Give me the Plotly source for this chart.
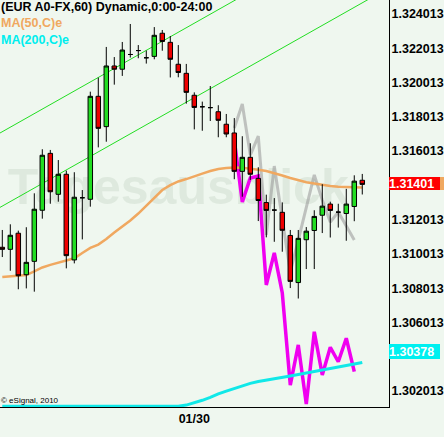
import plotly.graph_objects as go

# ---------------- data ----------------
bar_index = list(range(46))          # hourly bars, index 24 = 01/30 00:00
open_ = [1.31040, 1.31028, 1.31122, 1.30880, 1.30958, 1.31256, 1.31588, 1.31349, 1.31466, 1.30966,
         1.31329, 1.31320, 1.31921, 1.31744, 1.32098, 1.32079, 1.32165, 1.32188, 1.32146, 1.32154,
         1.32289, 1.32236, 1.32108, 1.32055, 1.31927, 1.31860, 1.31855, 1.31831, 1.31758, 1.31707,
         1.31483, 1.31565, 1.31442, 1.31301, 1.31257, 1.31244, 1.31109, 1.30834, 1.31084, 1.31138,
         1.31227, 1.31292, 1.31245, 1.31237, 1.31278, 1.31431]
high = [1.31141, 1.31174, 1.31137, 1.31157, 1.31355, 1.31612, 1.31608, 1.31549, 1.31487, 1.31478,
        1.31374, 1.31948, 1.32030, 1.32209, 1.32150, 1.32238, 1.32343, 1.32220, 1.32188, 1.32325,
        1.32308, 1.32273, 1.32220, 1.32110, 1.31944, 1.31890, 1.31981, 1.31869, 1.31818, 1.31794,
        1.31688, 1.31647, 1.31507, 1.31347, 1.31327, 1.31302, 1.31141, 1.31141, 1.31158, 1.31256,
        1.31408, 1.31306, 1.31294, 1.31381, 1.31460, 1.31468]
low = [1.30983, 1.30903, 1.30795, 1.30800, 1.30781, 1.31207, 1.31294, 1.31306, 1.30917, 1.30946,
       1.31086, 1.31277, 1.31623, 1.31656, 1.31989, 1.32040, 1.32147, 1.32143, 1.32112, 1.32137,
       1.32187, 1.32031, 1.32032, 1.31878, 1.31728, 1.31720, 1.31777, 1.31682, 1.31682, 1.31437,
       1.31335, 1.31433, 1.31193, 1.31098, 1.31072, 1.31014, 1.30802, 1.30741, 1.30913, 1.30913,
       1.31123, 1.31097, 1.31155, 1.31078, 1.31192, 1.31348]
close = [1.31028, 1.31110, 1.30874, 1.30952, 1.31262, 1.31577, 1.31364, 1.31466, 1.30991, 1.31332,
         1.31329, 1.31921, 1.31734, 1.32098, 1.32079, 1.32191, 1.32165, 1.32188, 1.32146, 1.32277,
         1.32241, 1.32137, 1.32060, 1.31944, 1.31856, 1.31860, 1.31855, 1.31781, 1.31701, 1.31483,
         1.31565, 1.31466, 1.31313, 1.31255, 1.31257, 1.31139, 1.30841, 1.31092, 1.31134, 1.31220,
         1.31280, 1.31255, 1.31245, 1.31292, 1.31426, 1.31407]

ma50 = [1.30866, 1.30871, 1.30875, 1.30878, 1.30899, 1.30922, 1.30937, 1.30951, 1.30966, 1.30976,
        1.31007, 1.31036, 1.31056, 1.31088, 1.31126, 1.31161, 1.31196, 1.31237, 1.31281, 1.31325,
        1.31374, 1.31403, 1.31424, 1.31438, 1.31456, 1.31470, 1.31485, 1.31497, 1.31503, 1.31506,
        1.31504, 1.31500, 1.31493, 1.31485, 1.31473, 1.31459, 1.31444, 1.31430, 1.31419, 1.31412,
        1.31403, 1.31398, 1.31393, 1.31392, 1.31390, 1.31389]
ma200 = [1.30113, 1.30113, 1.30113, 1.30113, 1.30113, 1.30113, 1.30113, 1.30113, 1.30113, 1.30113,
         1.30113, 1.30113, 1.30113, 1.30113, 1.30113, 1.30113, 1.30113, 1.30113, 1.30113, 1.30113,
         1.30113, 1.30113, 1.30113, 1.30119, 1.30132, 1.30147, 1.30164, 1.30185, 1.30201, 1.30216,
         1.30233, 1.30246, 1.30257, 1.30266, 1.30274, 1.30281, 1.30289, 1.30297, 1.30306, 1.30314,
         1.30324, 1.30332, 1.30341, 1.30349, 1.30358, 1.30368]

proj_index = list(range(29, 45))
proj_gray = [1.31736, 1.31876, 1.31578, 1.31689, 1.31112, 1.31514, 1.31205, 1.30896, 1.31082, 1.31275,
             1.31462, 1.31316, 1.31187, 1.31246, 1.31164, 1.31082]
proj_magenta = [1.31666, 1.31304, 1.31444, 1.31456, 1.30820, 1.31007, 1.30773, 1.30236, 1.30470, 1.30125,
                1.30547, 1.30295, 1.30456, 1.30372, 1.30509, 1.30314]

channel_x = [-1, 49]
channel_upper = [1.31688, 1.33007]
channel_lower = [1.31254, 1.32572]

# (1.304013 and 1.314013 are hidden behind the value boxes in the reference)
y_tick_vals = [1.302013, 1.306013, 1.308013, 1.310013, 1.312013,
               1.316013, 1.318013, 1.320013, 1.322013, 1.324013]
y_tick_text = ["1.302013", "1.306013", "1.308013", "1.310013", "1.312013",
               "1.316013", "1.318013", "1.320013", "1.322013", "1.324013"]
x_tick_vals = [24]
x_tick_text = ["01/30"]

last_price_label = "1.31401"
ma200_label = "1.30378"

# ---------------- styling ----------------
BG = "#EFF7EF"
FONT = "Liberation Sans, Arial, sans-serif"
X_RANGE = [-0.2875, 48.34]
Y_RANGE = [1.301079, 1.32483]

fig = go.Figure()

# watermark
fig.add_trace(go.Scatter(x=[22.0], y=[1.31368], mode="text", text=["Tagesausblick"],
                         textfont=dict(family=FONT, size=50, color="#DEE9DE", weight="bold"),
                         hoverinfo="skip", showlegend=False))

for yy in (channel_upper, channel_lower):
    fig.add_trace(go.Scatter(x=channel_x, y=yy, mode="lines",
                             line=dict(color="#22DD22", width=1), hoverinfo="skip", showlegend=False))

fig.add_trace(go.Scatter(x=proj_index, y=proj_gray, mode="lines",
                         line=dict(color="rgba(150,150,150,0.55)", width=3),
                         hoverinfo="skip", showlegend=False))
fig.add_trace(go.Scatter(x=proj_index, y=proj_magenta, mode="lines",
                         line=dict(color="#F000F0", width=3.5),
                         hoverinfo="skip", showlegend=False))
fig.add_trace(go.Scatter(x=bar_index, y=ma50, mode="lines",
                         line=dict(color="#F0A860", width=2.5),
                         hoverinfo="skip", showlegend=False))
fig.add_trace(go.Scatter(x=bar_index, y=ma200, mode="lines",
                         line=dict(color="#10E8E8", width=3),
                         hoverinfo="skip", showlegend=False))

# candles on an overlaid axis pair so they sit on top of the lines
fig.add_trace(go.Candlestick(
    x=bar_index, open=open_, high=high, low=low, close=close,
    xaxis="x2", yaxis="y2",
    increasing=dict(fillcolor="#22DD22", line=dict(color="black", width=1)),
    decreasing=dict(fillcolor="#EE0000", line=dict(color="black", width=1)),
    whiskerwidth=0, hoverinfo="skip", showlegend=False))

bold = dict(family=FONT, size=12.5, color="black", weight="bold")

fig.update_layout(
    template="none",
    width=444, height=437,
    margin=dict(l=0, r=55, t=0, b=30, autoexpand=False),
    paper_bgcolor=BG, plot_bgcolor=BG,
    font=dict(family=FONT, color="black"),
    showlegend=False,
    boxgap=0.2, boxgroupgap=0.3,
    xaxis=dict(range=X_RANGE, showgrid=False, zeroline=False, automargin=False,
               showline=True, linecolor="black", linewidth=1,
               tickvals=x_tick_vals, ticktext=x_tick_text, ticks="",
               tickfont=bold, rangeslider=dict(visible=False), fixedrange=True),
    yaxis=dict(range=Y_RANGE, side="right", showgrid=False, zeroline=False, automargin=False,
               showline=True, linecolor="black", linewidth=1,
               tickvals=y_tick_vals, ticktext=y_tick_text, ticks="",
               ticklabelstandoff=-1,
               tickfont=bold, fixedrange=True),
    xaxis2=dict(range=X_RANGE, overlaying="x", visible=False, automargin=False,
                rangeslider=dict(visible=False), fixedrange=True),
    yaxis2=dict(range=Y_RANGE, overlaying="y", visible=False, automargin=False, fixedrange=True),
)

# MA50 label sliver behind last price label
fig.add_shape(type="rect", xref="paper", yref="y", x0=1.0, x1=1.15,
              y0=1.31374, y1=1.31450, fillcolor="#F0A860", line=dict(width=0), layer="above")

annos = [
    dict(text="(EUR A0-FX,60) Dynamic,0:00-24:00", x=0, y=1 - 7 / 407, font=bold),
    dict(text="MA(50,C)e", x=0, y=1 - 23 / 407, font=dict(bold, color="#F0A860")),
    dict(text="MA(200,C)e", x=0, y=1 - 40 / 407, font=dict(bold, color="#00EEEE")),
    dict(text="© eSignal, 2010", x=0, y=1 - 400 / 407,
         font=dict(family=FONT, size=8, color="black")),
]
for a in annos:
    fig.add_annotation(xref="paper", yref="paper", xanchor="left", yanchor="middle",
                       showarrow=False, xshift=-1, **a)

fig.add_annotation(text=last_price_label, xref="paper", yref="y", x=1.0, y=1.31413,
                   xanchor="left", yanchor="middle", showarrow=False,
                   bgcolor="#FF0000", borderpad=0, borderwidth=0, width=51, height=13,
                   align="left", font=dict(bold, color="white"))
fig.add_annotation(text=ma200_label, xref="paper", yref="y", x=1.0, y=1.30429,
                   xanchor="left", yanchor="middle", showarrow=False,
                   bgcolor="#00F0F0", borderpad=0, borderwidth=0, width=51, height=15,
                   align="left", font=dict(bold, color="white"))

fig.write_html("out.html",
               config={"displayModeBar": False, "staticPlot": True},
               post_script="document.body.style.margin='0px';"
                           "document.body.style.overflow='hidden';"
                           "document.body.style.background='" + BG + "';")
